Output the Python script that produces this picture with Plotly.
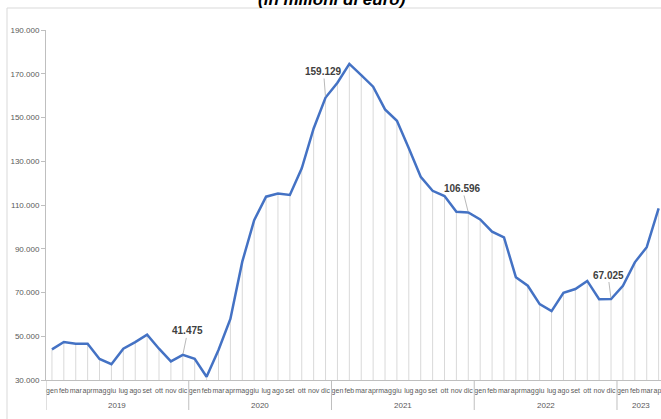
import plotly.graph_objects as go

MONTHS = ["gen", "feb", "mar", "apr", "mag", "giu", "lug", "ago", "set", "ott", "nov", "dic"]

v2019 = [44000, 47400, 46600, 46600, 39600, 37200, 44300, 47300, 50700, 44300, 38500, 41475]
v2020 = [39700, 31500, 43700, 57900, 84100, 103100, 113800, 115200, 114600, 126800, 145000, 159129]
v2021 = [165900, 174500, 169400, 164100, 153700, 148500, 135900, 122900, 116500, 114100, 106900, 106596]
v2022 = [103400, 97800, 95200, 77000, 73100, 64700, 61500, 69900, 71600, 75300, 66900, 67025]
v2023 = [73100, 83800, 90700, 108500]

series = {"2019": v2019, "2020": v2020, "2021": v2021, "2022": v2022, "2023": v2023}

years = []
months = []
values = []
for yr, vals in series.items():
    for i, v in enumerate(vals):
        years.append(yr)
        months.append(MONTHS[i])
        values.append(v)
cats = [f"{m} {y}" for m, y in zip(months, years)]

labelled = [("2019", "dic"), ("2020", "dic"), ("2021", "dic"), ("2022", "dic")]
label_offsets = [(5, -24), (-2, -26), (-6, -24), (-3, -24)]

Y_MIN, Y_MAX = 30000, 190000
n = len(values)

W, H = 661, 419
ML, MR, MT, MB = 46, 0, 30, 39
pw = W - ML - MR
ph = H - MT - MB

FONT = "Liberation Sans Narrow, Arial Narrow, Liberation Sans, sans-serif"

fig = go.Figure()

# drop lines from each point to the axis
fig.add_trace(go.Scatter(
    x=cats, y=values, mode="markers",
    marker=dict(size=1, color="rgba(0,0,0,0)"),
    error_y=dict(type="data", symmetric=False, array=[0] * n,
                 arrayminus=[v - Y_MIN for v in values],
                 width=0, color="#d9d9d9", thickness=1),
    hoverinfo="skip", showlegend=False,
))

fig.add_trace(go.Scatter(
    x=cats, y=values, mode="lines",
    line=dict(color="#4472C4", width=2.5),
    showlegend=False, cliponaxis=False,
))

annotations = []
for (yr, mo), (dx, dy) in zip(labelled, label_offsets):
    idx = next(i for i in range(n) if years[i] == yr and months[i] == mo)
    v = values[idx]
    annotations.append(dict(
        x=idx, y=v, xref="x", yref="y",
        text="<b>" + f"{v:,}".replace(",", ".") + "</b>",
        showarrow=True, arrowhead=0, arrowwidth=0.8, arrowcolor="#a6a6a6",
        ax=dx, ay=dy, standoff=1,
        font=dict(family=FONT, size=10, color="#404040"),
    ))

# year group labels and dividers
shapes = [dict(type="rect", xref="paper", yref="paper",
               x0=-(ML - 7) / pw, x1=1 + 5 / pw,
               y0=-(MB + 5) / ph, y1=1 + (MT - 8) / ph,
               line=dict(color="#d9d9d9", width=1), layer="below")]
start = 0
for yr, vals in series.items():
    cnt = len(vals)
    annotations.append(dict(
        x=start + (cnt - 1) / 2, y=0, xref="x", yref="paper",
        yanchor="middle", yshift=-25, text=yr, showarrow=False,
        font=dict(family=FONT, size=8, color="#595959"),
    ))
    shapes.append(dict(type="line", xref="x", yref="paper",
                       x0=start - 0.5, x1=start - 0.5, y0=0, y1=-30 / ph,
                       line=dict(color="#bfbfbf", width=1)))
    start += cnt

annotations.append(dict(
    x=0.5, y=1, xref="paper", yref="paper", yanchor="middle",
    xshift=-22, yshift=(MT + 1),
    text="<b><i>(in milioni di euro)</i></b>", showarrow=False,
    font=dict(family="Liberation Sans, Arial, sans-serif", size=17, color="#000000"),
))

fig.update_layout(
    width=W, height=H,
    margin=dict(l=ML, r=MR, t=MT, b=MB, pad=0, autoexpand=False),
    paper_bgcolor="white", plot_bgcolor="white",
    separators=",.",
    annotations=annotations,
    shapes=shapes,
    font=dict(family=FONT, size=9, color="#595959"),
)

fig.update_xaxes(
    type="category", range=[-0.5, n - 0.8], automargin=False,
    tickmode="array", tickvals=cats, ticktext=months,
    showline=True, linecolor="#bfbfbf", linewidth=1,
    showgrid=False, ticks="", tickangle=0, ticklabelstandoff=4,
    tickfont=dict(size=7, color="#595959"),
    zeroline=False,
)
fig.update_yaxes(
    range=[Y_MIN, Y_MAX], tick0=Y_MIN, dtick=20000, tickformat=",d", automargin=False,
    showline=True, linecolor="#bfbfbf", linewidth=1,
    ticks="outside", ticklen=4, tickcolor="#bfbfbf",
    showgrid=False, zeroline=False,
    tickfont=dict(size=8, color="#595959"),
)

fig.write_html("out.html", config={"displayModeBar": False},
               post_script="document.body.style.margin='0';")
